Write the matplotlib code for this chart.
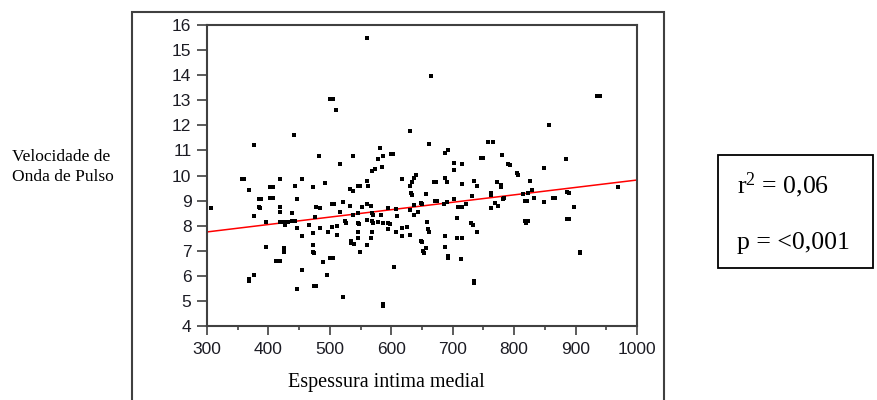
import matplotlib
matplotlib.use("Agg")
import matplotlib.pyplot as plt
from matplotlib.patches import Rectangle
from matplotlib.ticker import MultipleLocator

plt.rcParams["mathtext.fontset"] = "custom"
plt.rcParams["mathtext.rm"] = "Liberation Serif"
plt.rcParams["mathtext.it"] = "Liberation Serif"

# (espessura intima medial, velocidade de onda de pulso)
pontos = [
    (560, 15.5), (665, 13.95), (500, 13.05), (505, 13.05), (510, 12.6),
    (935, 13.17), (940, 13.17), (856, 12.0), (441, 11.6), (377, 11.2),
    (630, 11.76), (662, 11.27), (758, 11.33), (765, 11.33), (582, 11.08),
    (692, 11.03), (688, 10.91), (483, 10.78), (537, 10.78), (578, 10.65),
    (587, 10.77), (599, 10.84), (603, 10.84), (746, 10.71), (750, 10.71),
    (780, 10.83), (517, 10.45), (585, 10.32), (568, 10.18), (573, 10.24),
    (702, 10.51), (702, 10.22), (715, 10.45), (790, 10.45), (793, 10.42),
    (804, 10.10), (806, 10.02), (848, 10.28), (884, 10.65),
    (357, 9.86), (360, 9.86), (419, 9.85), (455, 9.86), (617, 9.86),
    (640, 10.02), (637, 9.89), (634, 9.75), (631, 9.59), (492, 9.72),
    (560, 9.79), (562, 9.60), (546, 9.60), (549, 9.60), (533, 9.48),
    (537, 9.40), (472, 9.55), (444, 9.60), (403, 9.55), (408, 9.55),
    (368, 9.42), (670, 9.73), (673, 9.73), (688, 9.91), (690, 9.73),
    (715, 9.66), (735, 9.80), (740, 9.60), (772, 9.73), (778, 9.62),
    (778, 9.55), (826, 9.79), (969, 9.54),
    (385, 9.06), (388, 9.06), (403, 9.12), (408, 9.12), (446, 9.06),
    (632, 9.30), (634, 9.22), (657, 9.27), (702, 9.06), (732, 9.18),
    (762, 9.30), (762, 9.22), (783, 9.11), (829, 9.42), (833, 9.12),
    (815, 9.27), (822, 9.30), (848, 8.93), (863, 9.12), (867, 9.12),
    (886, 9.35), (890, 9.30), (818, 9.00), (821, 9.00), (671, 9.00),
    (674, 9.00), (686, 8.88), (691, 8.95),
    (306, 8.70), (385, 8.75), (386, 8.70), (419, 8.75), (419, 8.56),
    (439, 8.49), (477, 8.76), (484, 8.69), (503, 8.86), (506, 8.86),
    (522, 8.93), (532, 8.80), (517, 8.56), (538, 8.42), (546, 8.49),
    (553, 8.76), (560, 8.85), (567, 8.80), (568, 8.49), (570, 8.42),
    (584, 8.42), (594, 8.69), (607, 8.66), (609, 8.40), (630, 8.62),
    (637, 8.82), (643, 8.56), (637, 8.42), (648, 8.90), (650, 8.85),
    (708, 8.75), (715, 8.75), (722, 8.88), (762, 8.69), (769, 8.92),
    (773, 8.80), (782, 9.08), (898, 8.76),
    (377, 8.37), (396, 8.16), (419, 8.16), (425, 8.14), (432, 8.16),
    (438, 8.17), (444, 8.19), (427, 8.03), (466, 8.02), (475, 8.33),
    (484, 7.89), (503, 7.96), (511, 8.00), (525, 8.18), (527, 8.12),
    (546, 8.12), (547, 8.05), (561, 8.24), (568, 8.18), (570, 8.12),
    (578, 8.16), (587, 8.09), (595, 8.12), (598, 8.06), (658, 8.16),
    (707, 8.32), (729, 8.12), (733, 8.02), (818, 8.17), (823, 8.17),
    (820, 8.12), (886, 8.25), (890, 8.25),
    (446, 7.90), (455, 7.59), (473, 7.69), (497, 7.76), (511, 7.64),
    (546, 7.76), (546, 7.52), (568, 7.76), (567, 7.52), (595, 7.85),
    (607, 7.76), (617, 7.89), (617, 7.57), (625, 7.96), (630, 7.63),
    (659, 7.86), (662, 7.76), (687, 7.58), (707, 7.52), (715, 7.52),
    (740, 7.76),
    (396, 7.16), (426, 7.10), (426, 6.97), (473, 7.22), (535, 7.40),
    (535, 7.32), (539, 7.28), (561, 7.23), (648, 7.38), (650, 7.34),
    (657, 7.10), (687, 7.16),
    (413, 6.60), (419, 6.60), (472, 6.96), (474, 6.90), (489, 6.54),
    (501, 6.72), (505, 6.72), (549, 6.94), (651, 6.98), (653, 6.92),
    (693, 6.80), (693, 6.72), (713, 6.66), (605, 6.34), (455, 6.23),
    (377, 6.03), (496, 6.04), (908, 6.97), (908, 6.90),
    (368, 5.88), (368, 5.78), (446, 5.48), (474, 5.60), (478, 5.60),
    (522, 5.17), (587, 4.88), (587, 4.80), (735, 5.80), (735, 5.73),
]

# regression line end points
reta_x = [300, 1000]
reta_y = [7.75, 9.82]

x_ticks = [300, 400, 500, 600, 700, 800, 900, 1000]
y_ticks = [4, 5, 6, 7, 8, 9, 10, 11, 12, 13, 14, 15, 16]

serif = "Liberation Serif"
sans = "Liberation Sans"
frame = "#404040"
label_color = "#1c1c24"

espessura = [p[0] for p in pontos]
velocidade = [p[1] for p in pontos]

fig = plt.figure(figsize=(8.78, 4.0), dpi=100)
fig.patch.set_facecolor("white")

# outer frame around the graph
fig.add_artist(Rectangle((132 / 878, -0.05), (664 - 132) / 878, 0.05 + (400 - 12) / 400,
                         transform=fig.transFigure, fill=False,
                         edgecolor=frame, linewidth=1.5))

ax = fig.add_axes([207 / 878, 74 / 400, 430 / 878, 301 / 400])
ax.scatter(espessura, velocidade, marker="s", s=6.5, color="black",
           linewidths=0, zorder=3)
ax.plot(reta_x, reta_y, color="#ff0000", linewidth=1.1, zorder=2)

ax.set_xlim(300, 1000)
ax.set_ylim(4, 16)
ax.set_xticks(x_ticks)
ax.set_yticks(y_ticks)
ax.xaxis.set_minor_locator(MultipleLocator(50))

for s in ax.spines.values():
    s.set_color(frame)
    s.set_linewidth(1.5)

ax.tick_params(axis="y", which="major", direction="out", length=7.2, width=1.2,
               color=frame, pad=4, labelsize=12.5, labelcolor=label_color)
ax.tick_params(axis="x", which="major", direction="out", length=6.5, width=1.2,
               color=frame, pad=5, labelsize=12.5, labelcolor=label_color)
ax.tick_params(axis="x", which="minor", direction="out", length=3, width=1.2,
               color=frame)
for lab in ax.get_xticklabels() + ax.get_yticklabels():
    lab.set_fontfamily(sans)

fig.text(386 / 878, 1 - 383 / 400, "Espessura intima medial", family=serif,
         fontsize=14.5, ha="center", va="center", color="black")
fig.text(12 / 878, 1 - 167 / 400, "Velocidade de\nOnda de Pulso", family=serif,
         fontsize=12.5, ha="left", va="center", linespacing=1.3, color="black")

# statistics box
fig.add_artist(Rectangle((718 / 878, 1 - 268 / 400), (873 - 718) / 878, (268 - 155) / 400,
                         transform=fig.transFigure, fill=False,
                         edgecolor="black", linewidth=1.3))
fig.text(737 / 878, 1 - 185 / 400, "r$^{2}$ = 0,06", family=serif, fontsize=18.5,
         ha="left", va="center", color="black")
fig.text(737 / 878, 1 - 243 / 400, "p = <0,001", family=serif, fontsize=18.5,
         ha="left", va="center", color="black")

fig.savefig("out.png", dpi=100, facecolor="white")
